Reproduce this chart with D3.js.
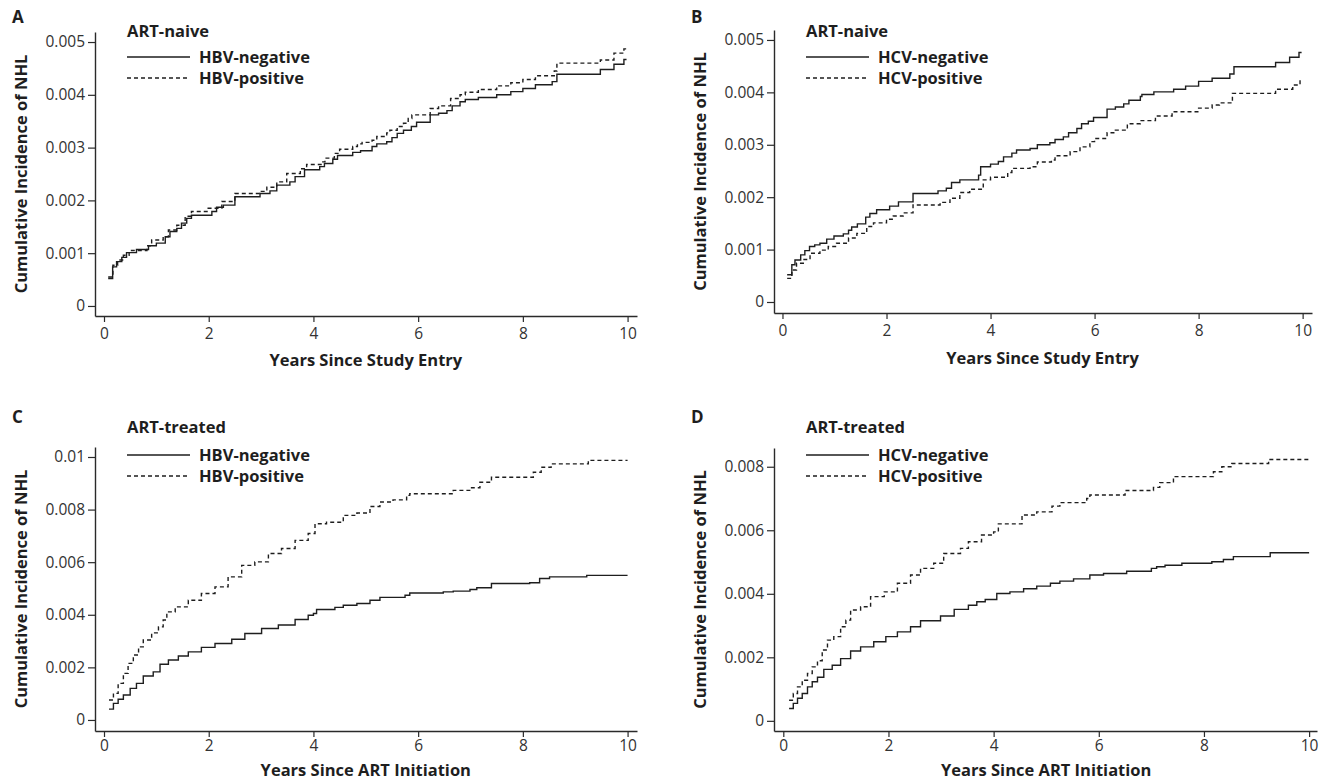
<!DOCTYPE html>
<html>
<head>
<meta charset="utf-8">
<script src="https://cdn.jsdelivr.net/npm/d3@7"></script>
<style>
  body { margin: 0; background: #fff; }
  svg { font-family: "Open Sans", sans-serif; }
</style>
</head>
<body>
<svg id="chart" width="1328" height="784"></svg>
<script>
////////////////////////////////////////////////
// step points: [years, cumulative incidence]

// A: ART-naive, HBV
const naiveHbvNeg = [[0.08,0.00052],[0.165,0.00074],[0.24,0.00084],[0.34,0.00092],[0.43,0.00101],[0.62,0.00107],[0.85,0.00114],[1.0,0.00119],[1.17,0.00131],[1.26,0.00141],[1.39,0.00147],[1.48,0.00157],[1.58,0.00166],[1.67,0.00172],[2.06,0.00179],[2.15,0.00187],[2.28,0.00191],[2.5,0.00207],[2.98,0.00213],[3.17,0.00218],[3.3,0.00229],[3.55,0.00235],[3.65,0.00245],[3.83,0.00258],[4.12,0.00264],[4.21,0.0027],[4.37,0.00278],[4.46,0.00285],[4.75,0.00291],[4.9,0.00294],[5.12,0.00302],[5.21,0.00307],[5.4,0.00311],[5.5,0.00319],[5.6,0.00327],[5.72,0.00333],[5.87,0.0034],[5.97,0.00348],[6.23,0.00362],[6.39,0.00365],[6.55,0.0037],[6.65,0.00379],[6.8,0.00387],[6.9,0.00391],[7.15,0.00395],[7.5,0.004],[7.77,0.00406],[8.0,0.00412],[8.24,0.00419],[8.56,0.00425],[8.65,0.00439],[9.48,0.00448],[9.74,0.00458],[9.93,0.00467],[9.98,0.00467]];
const naiveHbvPos = [[0.08,0.00055],[0.17,0.00077],[0.26,0.00087],[0.37,0.00096],[0.48,0.00105],[0.82,0.00114],[0.91,0.00125],[1.13,0.00131],[1.23,0.00144],[1.39,0.00153],[1.55,0.0017],[1.67,0.00179],[1.99,0.00185],[2.25,0.00198],[2.5,0.00213],[2.98,0.00217],[3.11,0.00225],[3.3,0.00235],[3.49,0.00251],[3.75,0.0026],[3.87,0.00268],[4.16,0.00273],[4.22,0.0028],[4.4,0.00289],[4.5,0.00297],[4.75,0.00302],[4.84,0.00307],[4.93,0.0031],[5.12,0.00314],[5.21,0.00321],[5.4,0.00328],[5.46,0.00333],[5.6,0.0034],[5.72,0.00346],[5.81,0.00355],[5.88,0.00362],[6.23,0.00374],[6.39,0.00379],[6.62,0.00393],[6.8,0.004],[6.9,0.00405],[7.15,0.0041],[7.5,0.00417],[7.77,0.00423],[8.0,0.00429],[8.24,0.00436],[8.6,0.00445],[8.65,0.0046],[9.48,0.00466],[9.74,0.00479],[9.93,0.00487],[9.98,0.00487]];

// B: ART-naive, HCV
const naiveHcvNeg = [[0.09,0.00052],[0.18,0.00071],[0.24,0.0008],[0.35,0.0009],[0.43,0.00098],[0.52,0.00106],[0.62,0.00109],[0.72,0.00112],[0.85,0.0012],[0.99,0.00126],[1.17,0.0013],[1.27,0.00137],[1.33,0.00143],[1.44,0.00149],[1.6,0.00162],[1.68,0.00169],[1.81,0.00176],[2.06,0.00183],[2.23,0.00191],[2.51,0.00207],[2.99,0.00212],[3.15,0.00217],[3.25,0.00228],[3.41,0.00233],[3.77,0.00242],[3.81,0.00258],[4.0,0.00263],[4.15,0.00268],[4.25,0.00277],[4.41,0.00284],[4.5,0.0029],[4.76,0.00293],[4.9,0.003],[5.14,0.00304],[5.24,0.0031],[5.4,0.00315],[5.5,0.00323],[5.66,0.00331],[5.75,0.0034],[5.88,0.00345],[5.98,0.00352],[6.24,0.00368],[6.4,0.00372],[6.56,0.00378],[6.66,0.00385],[6.88,0.00392],[6.91,0.00396],[7.14,0.00401],[7.52,0.00406],[7.75,0.00412],[8.0,0.00421],[8.26,0.00427],[8.6,0.00435],[8.68,0.00449],[9.48,0.00457],[9.75,0.00467],[9.93,0.00476],[9.98,0.00476]];
const naiveHcvPos = [[0.09,0.00045],[0.18,0.00061],[0.27,0.00074],[0.4,0.00081],[0.53,0.00093],[0.72,0.00099],[0.88,0.00106],[1.04,0.00112],[1.27,0.00122],[1.43,0.00131],[1.62,0.00144],[1.75,0.00151],[2.0,0.00158],[2.13,0.00164],[2.32,0.0017],[2.51,0.00185],[3.03,0.0019],[3.22,0.00198],[3.41,0.00209],[3.6,0.00215],[3.86,0.00233],[4.0,0.00238],[4.33,0.00247],[4.41,0.00255],[4.76,0.00258],[4.9,0.00267],[5.17,0.00271],[5.24,0.00279],[5.53,0.00287],[5.72,0.00296],[5.91,0.00306],[6.0,0.00312],[6.24,0.00323],[6.4,0.00328],[6.63,0.0034],[6.88,0.00346],[7.17,0.00355],[7.49,0.00363],[8.0,0.0037],[8.26,0.00376],[8.4,0.0038],[8.65,0.00398],[9.48,0.00406],[9.81,0.00414],[9.95,0.00424],[9.98,0.00424]];

// C: ART-treated, HBV
const treatedHbvNeg = [[0.095,0.00041],[0.18,0.00063],[0.27,0.00079],[0.37,0.00095],[0.5,0.0012],[0.62,0.00139],[0.75,0.00167],[0.94,0.00183],[1.07,0.00212],[1.23,0.00228],[1.42,0.00243],[1.61,0.00259],[1.86,0.00276],[2.12,0.00291],[2.44,0.00307],[2.69,0.00329],[3.01,0.00348],[3.33,0.00361],[3.65,0.00382],[3.9,0.00398],[4.0,0.00405],[4.06,0.0042],[4.41,0.00428],[4.57,0.00436],[4.83,0.00443],[5.08,0.00455],[5.27,0.00466],[5.75,0.00474],[5.84,0.00483],[6.48,0.00487],[6.67,0.0049],[6.99,0.00496],[7.12,0.00503],[7.4,0.00519],[8.13,0.00522],[8.32,0.00538],[8.51,0.00544],[9.22,0.0055],[10.0,0.0055]];
const treatedHbvPos = [[0.095,0.00076],[0.18,0.00101],[0.27,0.00139],[0.37,0.00177],[0.46,0.00215],[0.56,0.00247],[0.66,0.00278],[0.75,0.00304],[0.91,0.00331],[1.04,0.00354],[1.13,0.0038],[1.2,0.00411],[1.36,0.0043],[1.61,0.00455],[1.86,0.00481],[2.12,0.00506],[2.37,0.00544],[2.63,0.00588],[2.88,0.00601],[3.14,0.00633],[3.39,0.00652],[3.65,0.00683],[3.9,0.00709],[4.03,0.00746],[4.25,0.00752],[4.57,0.00778],[4.83,0.00787],[5.08,0.00812],[5.27,0.00829],[5.52,0.00837],[5.78,0.00854],[5.84,0.0086],[6.67,0.00873],[7.02,0.00883],[7.18,0.00904],[7.4,0.00923],[8.2,0.00942],[8.35,0.00961],[8.54,0.00974],[9.25,0.00987],[10.0,0.00987]];

// D: ART-treated, HCV
const treatedHcvNeg = [[0.11,0.00039],[0.19,0.00055],[0.27,0.00071],[0.36,0.00086],[0.46,0.00107],[0.55,0.00123],[0.65,0.00137],[0.77,0.00162],[0.93,0.00175],[1.09,0.00196],[1.28,0.0022],[1.47,0.00233],[1.72,0.00249],[1.95,0.00265],[2.17,0.0028],[2.42,0.00296],[2.61,0.00315],[2.99,0.0033],[3.25,0.00351],[3.52,0.00364],[3.68,0.00375],[3.84,0.00382],[4.06,0.00401],[4.31,0.00406],[4.57,0.00416],[4.82,0.00424],[5.08,0.00433],[5.26,0.0044],[5.52,0.00447],[5.83,0.00459],[6.09,0.00464],[6.53,0.00471],[7.0,0.0048],[7.1,0.00485],[7.26,0.0049],[7.58,0.00496],[8.15,0.00501],[8.37,0.00508],[8.56,0.00517],[9.26,0.00529],[10.0,0.00529]];
const treatedHcvPos = [[0.11,0.00065],[0.19,0.00086],[0.27,0.00107],[0.36,0.00128],[0.46,0.00149],[0.55,0.0017],[0.65,0.00189],[0.74,0.00223],[0.84,0.00254],[0.96,0.00265],[1.09,0.00296],[1.19,0.00317],[1.28,0.00349],[1.47,0.00359],[1.66,0.00391],[1.92,0.00406],[2.17,0.00433],[2.42,0.00459],[2.61,0.0048],[2.86,0.00496],[3.05,0.00527],[3.37,0.00543],[3.52,0.00564],[3.77,0.00585],[4.0,0.00595],[4.09,0.0062],[4.54,0.00648],[4.82,0.00658],[5.11,0.00676],[5.26,0.00687],[5.77,0.007],[5.83,0.00711],[6.5,0.00725],[7.04,0.00735],[7.16,0.0075],[7.42,0.00769],[8.18,0.00784],[8.34,0.008],[8.53,0.0081],[9.23,0.00823],[10.0,0.00823]];

// tick labels
const xTicks = [0, 2, 4, 6, 8, 10];
const yTicksNaive = [0, 0.001, 0.002, 0.003, 0.004, 0.005];
const yTicksHbvTreated = [0, 0.002, 0.004, 0.006, 0.008, 0.01];
const yTicksHcvTreated = [0, 0.002, 0.004, 0.006, 0.008];

const yTitle = "Cumulative Incidence of NHL";

////////////////////////////////////////////////
// panel layout (pixels) + the data each panel uses
const panels = [
  {letter: "A", group: "ART-naive", neg: "HBV-negative", pos: "HBV-positive",
   xTitle: "Years Since Study Entry", negData: naiveHbvNeg, posData: naiveHbvPos, yTicks: yTicksNaive,
   box: {l: 95, r: 637, t: 32, b: 316}, xDom: [-0.172, 10.18], yDom: [-0.00019, 0.00519],
   letterY: 23, headY: 37, legY: [57, 78], titleY: 366, xPad: 6},
  {letter: "B", group: "ART-naive", neg: "HCV-negative", pos: "HCV-positive",
   xTitle: "Years Since Study Entry", negData: naiveHcvNeg, posData: naiveHcvPos, yTicks: yTicksNaive,
   box: {l: 774, r: 1312, t: 30, b: 313}, xDom: [-0.163, 10.18], yDom: [-0.00021, 0.00519],
   letterY: 23, headY: 37, legY: [57, 78], titleY: 364, xPad: 6},
  {letter: "C", group: "ART-treated", neg: "HBV-negative", pos: "HBV-positive",
   xTitle: "Years Since ART Initiation", negData: treatedHbvNeg, posData: treatedHbvPos, yTicks: yTicksHbvTreated,
   box: {l: 95, r: 637, t: 447, b: 731}, xDom: [-0.172, 10.18], yDom: [-0.00042, 0.01038],
   letterY: 423, headY: 433, legY: [455, 476], titleY: 776, xPad: 3},
  {letter: "D", group: "ART-treated", neg: "HCV-negative", pos: "HCV-positive",
   xTitle: "Years Since ART Initiation", negData: treatedHcvNeg, posData: treatedHcvPos, yTicks: yTicksHcvTreated,
   box: {l: 774, r: 1317, t: 448, b: 731}, xDom: [-0.177, 10.15], yDom: [-0.00032, 0.00859],
   letterY: 423, headY: 433, legY: [455, 476], titleY: 776, xPad: 3}
];

const ink = "#1e1e1e";
const dash = "4,3";

const svg = d3.select("svg#chart");

panels.forEach(function(p)
{
  const x = d3.scaleLinear().domain(p.xDom).range([p.box.l, p.box.r]);
  const y = d3.scaleLinear().domain(p.yDom).range([p.box.b, p.box.t]);

  const g = svg.append("g");

  // y axis
  const gY = g.append("g")
    .attr("transform", `translate(${p.box.l},0)`)
    .call(d3.axisLeft(y)
      .tickValues(p.yTicks)
      .tickSize(7)
      .tickSizeOuter(0)
      .tickPadding(3)
      .tickFormat(d3.format("~g")));

  // x axis
  const gX = g.append("g")
    .attr("transform", `translate(0,${p.box.b})`)
    .call(d3.axisBottom(x)
      .tickValues(xTicks)
      .tickSize(6)
      .tickSizeOuter(0)
      .tickPadding(p.xPad));

  [gX, gY].forEach(a => {
    a.selectAll("path.domain").attr("stroke", "#2a2a2a").attr("stroke-width", 1.4);
    a.selectAll(".tick line").attr("stroke", "#2a2a2a").attr("stroke-width", 1.2);
    a.selectAll("text")
      .attr("fill", "#333")
      .style("font-family", "'Open Sans', sans-serif")
      .style("font-size", "15.5px");
  });

  // curves
  const line = d3.line()
    .x(d => x(d[0]))
    .y(d => y(d[1]))
    .curve(d3.curveStepAfter);

  g.append("path")
    .datum(p.negData)
    .attr("d", line)
    .attr("fill", "none")
    .attr("stroke", ink)
    .attr("stroke-width", 1.4);

  g.append("path")
    .datum(p.posData)
    .attr("d", line)
    .attr("fill", "none")
    .attr("stroke", ink)
    .attr("stroke-width", 1.4)
    .attr("stroke-dasharray", dash);

  // panel letter
  g.append("text")
    .attr("x", p.box.l - 83)
    .attr("y", p.letterY)
    .text(p.letter)
    .attr("font-size", "17px")
    .attr("font-weight", "bold")
    .attr("fill", ink);

  // legend
  const lx = p.box.l + 32;
  g.append("text")
    .attr("x", lx)
    .attr("y", p.headY)
    .text(p.group)
    .attr("font-size", "16.5px")
    .attr("font-weight", "bold")
    .attr("fill", ink);

  [[p.neg, null], [p.pos, dash]].forEach(function(item, i)
  {
    g.append("line")
      .attr("x1", lx).attr("x2", lx + 63)
      .attr("y1", p.legY[i]).attr("y2", p.legY[i])
      .attr("stroke", ink)
      .attr("stroke-width", 1.3)
      .attr("stroke-dasharray", item[1]);
    g.append("text")
      .attr("x", lx + 72)
      .attr("y", p.legY[i])
      .attr("dy", "0.36em")
      .text(item[0])
      .attr("font-size", "16.5px")
      .attr("font-weight", "bold")
      .attr("fill", ink);
  });

  // axis titles
  g.append("text")
    .attr("x", (x(0) + x(10)) / 2)
    .attr("y", p.titleY)
    .attr("text-anchor", "middle")
    .text(p.xTitle)
    .attr("font-size", "16.5px")
    .attr("font-weight", "bold")
    .attr("fill", ink);

  g.append("text")
    .attr("transform", `translate(${p.box.l - 74},${(p.box.t + p.box.b) / 2}) rotate(-90)`)
    .attr("text-anchor", "middle")
    .attr("dy", "0.36em")
    .text(yTitle)
    .attr("font-size", "16.5px")
    .attr("font-weight", "bold")
    .attr("fill", ink);
});
</script>
</body>
</html>
